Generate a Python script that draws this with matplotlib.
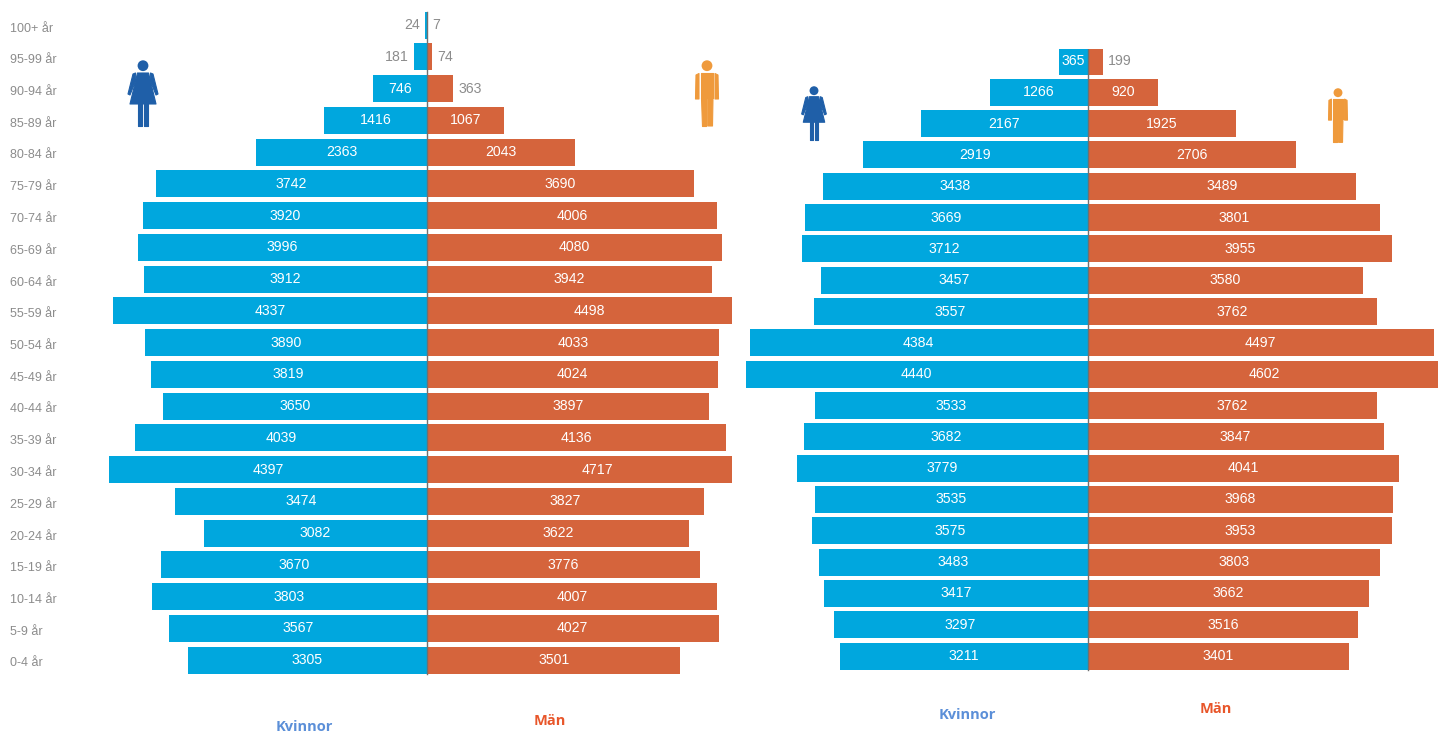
import numpy as np
from matplotlib import pyplot as plt
from matplotlib.patches import Circle, Polygon

ages = ["100+ år", "95-99 år", "90-94 år", "85-89 år", "80-84 år", "75-79 år", "70-74 år",
        "65-69 år", "60-64 år", "55-59 år", "50-54 år", "45-49 år", "40-44 år", "35-39 år",
        "30-34 år", "25-29 år", "20-24 år", "15-19 år", "10-14 år", "5-9 år", "0-4 år"]

women_left = [24, 181, 746, 1416, 2363, 3742, 3920, 3996, 3912, 4337, 3890, 3819, 3650, 4039,
              4397, 3474, 3082, 3670, 3803, 3567, 3305]
men_left = [7, 74, 363, 1067, 2043, 3690, 4006, 4080, 3942, 4498, 4033, 4024, 3897, 4136,
            4717, 3827, 3622, 3776, 4007, 4027, 3501]

women_right = [365, 1266, 2167, 2919, 3438, 3669, 3712, 3457, 3557, 4384, 4440, 3533, 3682,
               3779, 3535, 3575, 3483, 3417, 3297, 3211]
men_right = [199, 920, 1925, 2706, 3489, 3801, 3955, 3580, 3762, 4497, 4602, 3762, 3847,
             4041, 3968, 3953, 3803, 3662, 3516, 3401]

W, H = 1438, 733
BLUE = "#00a7de"
ORANGE = "#d5643c"
GREY = "#8c8c8c"

plt.rcParams["font.family"] = ["Liberation Sans", "DejaVu Sans"]
fig = plt.figure(figsize=(W/100, H/100), dpi=100)


def panel(women, men, x0, x1, y0, y1, centre, scale, first, step, barh, small):
    # axes placed in pixels, x in persons and y in row numbers
    ax = fig.add_axes([x0/W, 1-y1/H, (x1-x0)/W, (y1-y0)/H])
    ax.set_xlim((x0-centre)/scale, (x1-centre)/scale)
    ax.set_ylim((y1-first)/step, (y0-first)/step)
    ax.axis("off")
    rows = np.arange(len(women))
    ax.barh(rows, -np.array(women), height=barh/step, color=BLUE)
    ax.barh(rows, men, height=barh/step, color=ORANGE)
    ax.plot([0, 0], [rows[0]-barh/step/2, rows[-1]+barh/step/2], color="#707070", lw=1)
    for i, (w, m) in enumerate(zip(women, men)):
        if w in small:
            ax.annotate(str(w), (-w, i), xytext=(-4, 0), textcoords="offset points",
                        ha="right", va="center", color=GREY, fontsize=10.2)
        else:
            ax.text(-w/2, i, str(w), ha="center", va="center", color="white", fontsize=10.2)
        if m in small:
            ax.annotate(str(m), (m, i), xytext=(3.5, 0), textcoords="offset points",
                        ha="left", va="center", color=GREY, fontsize=10.2)
        else:
            ax.text(m/2, i, str(m), ha="center", va="center", color="white", fontsize=10.2)
    return ax


panel(women_left, men_left, 0, 732, 0, H, 427, 0.0724, 25, 31.76, 27, [24, 7, 181, 74, 363])
panel(women_right, men_right, 740, W, 49, H, 1087.5, 0.077, 61, 31.32, 27, [199])

# overlay in pixel coordinates for age labels, titles and icons
over = fig.add_axes([0, 0, 1, 1])
over.set_xlim(0, W)
over.set_ylim(H, 0)
over.axis("off")
over.patch.set_alpha(0)

for i, age in enumerate(ages):
    over.text(10, 28.5 + i*31.75, age, ha="left", va="center", color=GREY, fontsize=9)

for x, y, s, c in [(304, 727, "Kvinnor", "#5b8fd8"), (550, 721, "Män", "#e8562a"),
                   (967, 715, "Kvinnor", "#5b8fd8"), (1216, 709, "Män", "#e8562a")]:
    over.text(x, y, s, ha="center", va="center", color=c, fontsize=10.5,
              fontweight="bold", family="Open Sans")


def icon(cx, top, h, colour, female):
    k = h/68
    def add(points):
        xy = [(cx + px*k, top + py*k) for px, py in points]
        over.add_patch(Polygon(xy, closed=True, fc=colour, ec=colour, lw=0.8, joinstyle="round"))
    over.add_patch(Circle((cx, top + 5.7*k), 5.4*k, fc=colour, ec="none"))
    if female:
        add([(-5.5, 13), (5.5, 13), (13, 44), (-13, 44)])
        add([(-7.5, 13), (-10, 14), (-15, 34), (-13, 35), (-7, 20)])
        add([(7.5, 13), (10, 14), (15, 34), (13, 35), (7, 20)])
        add([(-5, 44), (-1, 44), (-1, 66), (-5, 66)])
        add([(1, 44), (5, 44), (5, 66), (1, 66)])
    else:
        add([(-6, 13), (6, 13), (6, 38), (-6, 38)])
        add([(-6, 38), (-0.7, 38), (-0.7, 66), (-5.5, 66)])
        add([(0.7, 38), (6, 38), (5.5, 66), (0.7, 66)])
        add([(-8, 13.5), (-11, 15), (-11.5, 39), (-8, 39)])
        add([(8, 13.5), (11, 15), (11.5, 39), (8, 39)])


icon(143, 60, 68, "#1f5fa8", True)
icon(707, 60, 68, "#ef9a3c", False)
icon(814, 86, 56, "#1f5fa8", True)
icon(1338, 88, 56, "#ef9a3c", False)

plt.savefig("out.png", dpi=100)
plt.close()
